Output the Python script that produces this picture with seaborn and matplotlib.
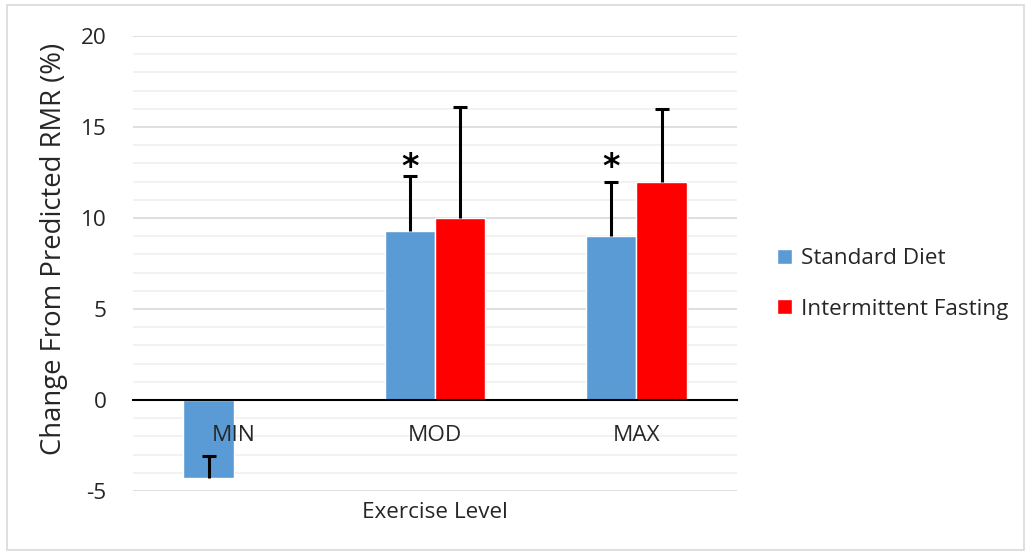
import matplotlib
matplotlib.use("Agg")
import matplotlib.pyplot as plt
import seaborn as sns
import pandas as pd
import numpy as np
from matplotlib.patches import Rectangle

# ---- data ----
categories = ["MIN", "MOD", "MAX"]
series = ["Standard Diet", "Intermittent Fasting"]
standard_vals = [-4.3, 9.3, 9.0]
standard_err = [1.2, 3.0, 3.0]
fasting_cats = ["MOD", "MAX"]
fasting_vals = [10.0, 12.0]
fasting_err = [6.1, 4.0]
star_cats = ["MOD", "MAX"]
star_y = 12.8
y_ticks = [-5, 0, 5, 10, 15, 20]

colors = {"Standard Diet": "#5B9BD5", "Intermittent Fasting": "#FF0000"}

rows = []
for c, v, e in zip(categories, standard_vals, standard_err):
    rows.append({"Exercise Level": c, "Group": "Standard Diet", "value": v, "err": e})
for c, v, e in zip(fasting_cats, fasting_vals, fasting_err):
    rows.append({"Exercise Level": c, "Group": "Intermittent Fasting", "value": v, "err": e})
df = pd.DataFrame(rows)

sns.set_style("white")
plt.rcParams["font.family"] = ["Open Sans", "DejaVu Sans"]
plt.rcParams["axes.unicode_minus"] = False
FS = 16.2

fig = plt.figure(figsize=(10.31, 5.56), dpi=100)
ax = fig.add_axes([133/1031, 1-491/556, (737-133)/1031, (491-36)/556])

sns.barplot(data=df, x="Exercise Level", y="value", hue="Group",
            order=categories, hue_order=series, palette=colors,
            width=0.5, gap=0, errorbar=None, ax=ax, legend=True,
            saturation=1, zorder=2)
ax.set_axisbelow(False)

# error bars (plus direction only)
for cont, grp in zip(ax.containers, series):
    sub = df[df["Group"] == grp]
    for bar, (_, r) in zip(cont, sub.iterrows()):
        xc = bar.get_x() + bar.get_width()/2
        eb = ax.errorbar(xc, r["value"], yerr=[[0], [r["err"]]], fmt="none",
                         ecolor="black", elinewidth=2.2, capsize=5, capthick=2.2, zorder=4)
        eb[1][0].set_visible(False)
        if grp == "Standard Diet" and r["Exercise Level"] in star_cats:
            ax.text(xc, star_y, "*", ha="center", va="center", fontsize=24,
                    fontweight="bold", color="black", family="DejaVu Sans")

ax.set_ylim(-5, 20)
ax.set_xlim(-0.5, 2.5)
ax.set_yticks(y_ticks)
ax.grid(False)
for yv in np.arange(-5, 21, 1):
    if yv == 0:
        continue
    ax.axhline(yv, color="#D9D9D9" if yv % 5 == 0 else "#F0F0F0", lw=1.2, zorder=0)

for s in ["top", "right", "left"]:
    ax.spines[s].set_visible(False)
ax.spines["bottom"].set_position(("data", 0))
ax.spines["bottom"].set_color("black")
ax.spines["bottom"].set_linewidth(1.5)
ax.spines["bottom"].set_zorder(5)
ax.tick_params(axis="x", length=0, pad=18, labelsize=FS)
ax.tick_params(axis="y", which="both", length=0, pad=19, labelsize=FS)

ax.set_xlabel("")
ylab = ax.set_ylabel("Change From Predicted RMR (%)", fontsize=FS)
ax.yaxis.set_label_coords(-0.108, 0.532)
fig.text(435/1031, 1-513/556, "Exercise Level", ha="center", va="center", fontsize=FS)

# fit y-label length to reference (~412 px)
fig.canvas.draw()
h = ylab.get_window_extent().height
ylab.set_fontsize(FS * 412.0 / h)

ax.legend(loc="center left", bbox_to_anchor=(757/1031, 1-284/556),
          bbox_transform=fig.transFigure, frameon=False, fontsize=FS,
          handlelength=0.65, handleheight=0.65, handletextpad=0.4,
          labelspacing=1.3)

fig.patches.append(Rectangle((7/1031, 1-550/556), (1024-7)/1031, (550-5)/556,
                             transform=fig.transFigure, fill=False,
                             edgecolor="#D9D9D9", lw=1.2))

fig.savefig("out.png", dpi=100)
